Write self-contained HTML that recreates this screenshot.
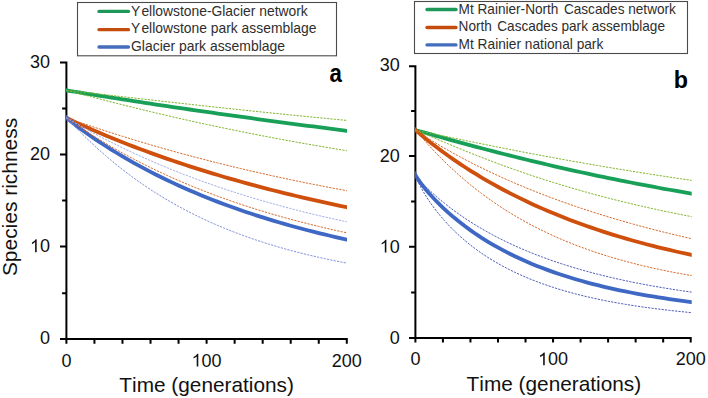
<!DOCTYPE html>
<html><head><meta charset="utf-8"><style>
html,body{margin:0;padding:0;background:#fff;}
body{width:708px;height:398px;overflow:hidden;}
svg{display:block;}
text{font-family:"Liberation Sans",sans-serif;fill:#111;font-kerning:none;}
.tk{font-size:18px;}
.ti{font-size:20.8px;}
.lg{fill:#2e2e2e;}
.pl{font-size:24px;font-weight:bold;fill:#000;}
</style></head><body>
<svg width="708" height="398" viewBox="0 0 708 398">
<rect width="708" height="398" fill="#fff"/>
<defs><clipPath id="cpa"><rect x="66.1" y="0" width="281.00" height="398"/></clipPath><clipPath id="cpb"><rect x="415.1" y="0" width="276.60" height="398"/></clipPath></defs>
<path d="M66.40,61.50 V339.00 M60.00,339.00 H347.80 M60.00,62.50 H66.40 M62.10,108.40 H66.40 M60.00,154.40 H66.40 M62.10,200.40 H66.40 M60.00,246.40 H66.40 M62.10,293.20 H66.40 M60.00,339.00 H66.40 M66.40,339.00 V343.70 M94.44,339.00 V343.70 M122.48,339.00 V343.70 M150.52,339.00 V343.70 M178.56,339.00 V343.70 M206.60,339.00 V343.70 M234.64,339.00 V343.70 M262.68,339.00 V343.70 M290.72,339.00 V343.70 M318.76,339.00 V343.70 M346.80,339.00 V343.70" stroke="#000" stroke-width="2" fill="none"/>
<g clip-path="url(#cpa)">
<path d="M63.40,89.85 L66.40,90.35 L67.80,90.59 L69.20,90.82 L70.61,91.06 L72.01,91.29 L74.81,91.75 L77.62,92.21 L80.42,92.67 L83.22,93.13 L87.43,93.81 L91.64,94.49 L95.84,95.16 L100.05,95.84 L105.66,96.73 L111.26,97.61 L116.87,98.49 L122.48,99.37 L128.09,100.24 L133.70,101.10 L139.30,101.96 L144.91,102.82 L150.52,103.67 L156.13,104.52 L161.74,105.36 L167.34,106.20 L172.95,107.03 L178.56,107.86 L184.17,108.68 L189.78,109.50 L195.38,110.32 L200.99,111.13 L206.60,111.94 L212.21,112.74 L217.82,113.54 L223.42,114.33 L229.03,115.12 L234.64,115.91 L240.25,116.69 L245.86,117.47 L251.46,118.24 L257.07,119.01 L262.68,119.78 L268.29,120.54 L273.90,121.30 L279.50,122.05 L285.11,122.80 L290.72,123.55 L296.33,124.29 L301.94,125.03 L307.54,125.76 L313.15,126.49 L318.76,127.22 L324.37,127.94 L329.98,128.66 L335.58,129.38 L341.19,130.09 L346.80,130.80 L349.80,131.18" stroke="#18a058" stroke-width="3.8" fill="none"/>
<path d="M63.40,116.31 L66.40,117.80 L67.80,118.50 L69.20,119.19 L70.61,119.86 L72.01,120.53 L74.81,121.85 L77.62,123.16 L80.42,124.44 L83.22,125.72 L87.43,127.60 L91.64,129.45 L95.84,131.28 L100.05,133.08 L105.66,135.44 L111.26,137.75 L116.87,140.03 L122.48,142.27 L128.09,144.46 L133.70,146.62 L139.30,148.75 L144.91,150.83 L150.52,152.89 L156.13,154.90 L161.74,156.89 L167.34,158.84 L172.95,160.76 L178.56,162.65 L184.17,164.51 L189.78,166.33 L195.38,168.13 L200.99,169.90 L206.60,171.64 L212.21,173.35 L217.82,175.04 L223.42,176.70 L229.03,178.33 L234.64,179.94 L240.25,181.52 L245.86,183.07 L251.46,184.60 L257.07,186.11 L262.68,187.59 L268.29,189.05 L273.90,190.49 L279.50,191.90 L285.11,193.29 L290.72,194.66 L296.33,196.01 L301.94,197.34 L307.54,198.65 L313.15,199.93 L318.76,201.20 L324.37,202.44 L329.98,203.67 L335.58,204.88 L341.19,206.07 L346.80,207.24 L349.80,207.86" stroke="#cf4f0c" stroke-width="3.8" fill="none"/>
<path d="M63.40,115.31 L66.40,117.80 L67.80,118.99 L69.20,120.13 L70.61,121.25 L72.01,122.35 L74.81,124.52 L77.62,126.64 L80.42,128.72 L83.22,130.76 L87.43,133.76 L91.64,136.70 L95.84,139.56 L100.05,142.37 L105.66,146.01 L111.26,149.55 L116.87,153.00 L122.48,156.36 L128.09,159.62 L133.70,162.80 L139.30,165.90 L144.91,168.92 L150.52,171.86 L156.13,174.72 L161.74,177.51 L167.34,180.23 L172.95,182.89 L178.56,185.47 L184.17,187.99 L189.78,190.45 L195.38,192.85 L200.99,195.19 L206.60,197.47 L212.21,199.70 L217.82,201.87 L223.42,203.99 L229.03,206.05 L234.64,208.07 L240.25,210.03 L245.86,211.95 L251.46,213.82 L257.07,215.65 L262.68,217.43 L268.29,219.17 L273.90,220.87 L279.50,222.53 L285.11,224.15 L290.72,225.73 L296.33,227.27 L301.94,228.77 L307.54,230.24 L313.15,231.67 L318.76,233.07 L324.37,234.43 L329.98,235.77 L335.58,237.07 L341.19,238.34 L346.80,239.58 L349.80,240.24" stroke="#3f68c4" stroke-width="3.8" fill="none"/>
<path d="M63.40,90.05 L66.40,90.35 L67.80,90.49 L69.20,90.63 L70.61,90.78 L72.01,90.94 L74.81,91.25 L77.62,91.56 L80.42,91.87 L83.22,92.19 L87.43,92.67 L91.64,93.15 L95.84,93.64 L100.05,94.12 L105.66,94.77 L111.26,95.41 L116.87,96.06 L122.48,96.71 L128.09,97.35 L133.70,97.99 L139.30,98.64 L144.91,99.28 L150.52,99.91 L156.13,100.55 L161.74,101.18 L167.34,101.81 L172.95,102.44 L178.56,103.07 L184.17,103.69 L189.78,104.31 L195.38,104.93 L200.99,105.54 L206.60,106.15 L212.21,106.76 L217.82,107.37 L223.42,107.97 L229.03,108.57 L234.64,109.16 L240.25,109.76 L245.86,110.34 L251.46,110.93 L257.07,111.51 L262.68,112.09 L268.29,112.67 L273.90,113.25 L279.50,113.82 L285.11,114.38 L290.72,114.95 L296.33,115.51 L301.94,116.06 L307.54,116.62 L313.15,117.17 L318.76,117.72 L324.37,118.26 L329.98,118.80 L335.58,119.34 L341.19,119.88 L346.80,120.41 L349.80,120.69" stroke="#80b42c" stroke-width="1.0" stroke-dasharray="2.2 1.2" fill="none"/>
<path d="M63.40,89.61 L66.40,90.35 L67.80,90.69 L69.20,91.04 L70.61,91.40 L72.01,91.76 L74.81,92.48 L77.62,93.22 L80.42,93.95 L83.22,94.68 L87.43,95.78 L91.64,96.88 L95.84,97.98 L100.05,99.07 L105.66,100.51 L111.26,101.95 L116.87,103.37 L122.48,104.78 L128.09,106.18 L133.70,107.57 L139.30,108.95 L144.91,110.31 L150.52,111.66 L156.13,113.00 L161.74,114.32 L167.34,115.63 L172.95,116.92 L178.56,118.21 L184.17,119.47 L189.78,120.73 L195.38,121.97 L200.99,123.20 L206.60,124.42 L212.21,125.62 L217.82,126.81 L223.42,127.98 L229.03,129.14 L234.64,130.29 L240.25,131.43 L245.86,132.55 L251.46,133.66 L257.07,134.76 L262.68,135.85 L268.29,136.92 L273.90,137.98 L279.50,139.03 L285.11,140.07 L290.72,141.09 L296.33,142.10 L301.94,143.10 L307.54,144.09 L313.15,145.07 L318.76,146.04 L324.37,146.99 L329.98,147.93 L335.58,148.87 L341.19,149.79 L346.80,150.70 L349.80,151.18" stroke="#80b42c" stroke-width="1.0" stroke-dasharray="2.2 1.2" fill="none"/>
<path d="M63.40,116.78 L66.40,117.80 L67.80,118.27 L69.20,118.75 L70.61,119.23 L72.01,119.72 L74.81,120.68 L77.62,121.63 L80.42,122.59 L83.22,123.54 L87.43,124.96 L91.64,126.36 L95.84,127.76 L100.05,129.14 L105.66,130.96 L111.26,132.77 L116.87,134.55 L122.48,136.31 L128.09,138.04 L133.70,139.76 L139.30,141.45 L144.91,143.13 L150.52,144.78 L156.13,146.41 L161.74,148.02 L167.34,149.61 L172.95,151.17 L178.56,152.72 L184.17,154.25 L189.78,155.76 L195.38,157.24 L200.99,158.71 L206.60,160.16 L212.21,161.59 L217.82,163.00 L223.42,164.39 L229.03,165.77 L234.64,167.12 L240.25,168.46 L245.86,169.78 L251.46,171.08 L257.07,172.37 L262.68,173.63 L268.29,174.88 L273.90,176.12 L279.50,177.34 L285.11,178.54 L290.72,179.72 L296.33,180.89 L301.94,182.04 L307.54,183.18 L313.15,184.31 L318.76,185.41 L324.37,186.51 L329.98,187.58 L335.58,188.65 L341.19,189.70 L346.80,190.73 L349.80,191.28" stroke="#d46a2c" stroke-width="1.0" stroke-dasharray="2.2 1.2" fill="none"/>
<path d="M63.40,115.64 L66.40,117.80 L67.80,118.82 L69.20,119.81 L70.61,120.80 L72.01,121.78 L74.81,123.72 L77.62,125.63 L80.42,127.51 L83.22,129.37 L87.43,132.11 L91.64,134.80 L95.84,137.44 L100.05,140.02 L105.66,143.40 L111.26,146.69 L116.87,149.90 L122.48,153.04 L128.09,156.10 L133.70,159.08 L139.30,162.00 L144.91,164.84 L150.52,167.62 L156.13,170.33 L161.74,172.98 L167.34,175.56 L172.95,178.08 L178.56,180.54 L184.17,182.95 L189.78,185.30 L195.38,187.59 L200.99,189.83 L206.60,192.02 L212.21,194.15 L217.82,196.24 L223.42,198.27 L229.03,200.26 L234.64,202.20 L240.25,204.10 L245.86,205.95 L251.46,207.76 L257.07,209.53 L262.68,211.25 L268.29,212.94 L273.90,214.58 L279.50,216.19 L285.11,217.76 L290.72,219.29 L296.33,220.79 L301.94,222.25 L307.54,223.68 L313.15,225.08 L318.76,226.44 L324.37,227.77 L329.98,229.07 L335.58,230.34 L341.19,231.58 L346.80,232.79 L349.80,233.44" stroke="#d46a2c" stroke-width="1.0" stroke-dasharray="2.2 1.2" fill="none"/>
<path d="M63.40,116.06 L66.40,117.80 L67.80,118.61 L69.20,119.43 L70.61,120.24 L72.01,121.05 L74.81,122.66 L77.62,124.26 L80.42,125.84 L83.22,127.40 L87.43,129.72 L91.64,132.01 L95.84,134.27 L100.05,136.49 L105.66,139.40 L111.26,142.25 L116.87,145.04 L122.48,147.78 L128.09,150.47 L133.70,153.10 L139.30,155.67 L144.91,158.20 L150.52,160.67 L156.13,163.10 L161.74,165.47 L167.34,167.80 L172.95,170.08 L178.56,172.32 L184.17,174.51 L189.78,176.65 L195.38,178.75 L200.99,180.81 L206.60,182.83 L212.21,184.80 L217.82,186.74 L223.42,188.63 L229.03,190.49 L234.64,192.31 L240.25,194.09 L245.86,195.84 L251.46,197.55 L257.07,199.23 L262.68,200.87 L268.29,202.48 L273.90,204.05 L279.50,205.59 L285.11,207.11 L290.72,208.59 L296.33,210.04 L301.94,211.46 L307.54,212.85 L313.15,214.21 L318.76,215.55 L324.37,216.86 L329.98,218.14 L335.58,219.39 L341.19,220.62 L346.80,221.83 L349.80,222.47" stroke="#a3ace6" stroke-width="1.0" stroke-dasharray="2.2 1.2" fill="none"/>
<path d="M63.40,114.67 L66.40,117.80 L67.80,119.26 L69.20,120.72 L70.61,122.19 L72.01,123.65 L74.81,126.55 L77.62,129.41 L80.42,132.23 L83.22,135.00 L87.43,139.09 L91.64,143.08 L95.84,146.97 L100.05,150.77 L105.66,155.69 L111.26,160.45 L116.87,165.04 L122.48,169.49 L128.09,173.78 L133.70,177.93 L139.30,181.94 L144.91,185.80 L150.52,189.54 L156.13,193.15 L161.74,196.63 L167.34,200.00 L172.95,203.24 L178.56,206.38 L184.17,209.40 L189.78,212.32 L195.38,215.14 L200.99,217.86 L206.60,220.49 L212.21,223.02 L217.82,225.47 L223.42,227.83 L229.03,230.10 L234.64,232.30 L240.25,234.42 L245.86,236.47 L251.46,238.44 L257.07,240.34 L262.68,242.18 L268.29,243.95 L273.90,245.66 L279.50,247.31 L285.11,248.90 L290.72,250.44 L296.33,251.92 L301.94,253.35 L307.54,254.72 L313.15,256.05 L318.76,257.34 L324.37,258.57 L329.98,259.76 L335.58,260.92 L341.19,262.02 L346.80,263.09 L349.80,263.66" stroke="#8290dc" stroke-width="1.0" stroke-dasharray="2.2 1.2" fill="none"/>
</g>
<path d="M415.40,65.20 V337.90 M409.00,337.90 H691.70 M409.00,66.20 H415.40 M411.10,110.90 H415.40 M409.00,156.00 H415.40 M411.10,201.60 H415.40 M409.00,246.80 H415.40 M411.10,292.40 H415.40 M409.00,337.90 H415.40 M415.40,337.90 V342.60 M442.93,337.90 V342.60 M470.46,337.90 V342.60 M497.99,337.90 V342.60 M525.52,337.90 V342.60 M553.05,337.90 V342.60 M580.58,337.90 V342.60 M608.11,337.90 V342.60 M635.64,337.90 V342.60 M663.17,337.90 V342.60 M690.70,337.90 V342.60" stroke="#000" stroke-width="2" fill="none"/>
<g clip-path="url(#cpb)">
<path d="M412.40,129.43 L415.40,130.20 L416.78,130.54 L418.16,130.90 L419.54,131.27 L420.92,131.65 L423.68,132.40 L426.44,133.16 L429.20,133.93 L431.97,134.70 L436.11,135.85 L440.25,137.00 L444.39,138.15 L448.53,139.30 L454.05,140.82 L459.58,142.33 L465.10,143.84 L470.62,145.33 L476.14,146.80 L481.66,148.27 L487.19,149.72 L492.71,151.16 L498.23,152.59 L503.75,154.00 L509.27,155.39 L514.80,156.78 L520.32,158.14 L525.84,159.50 L531.36,160.84 L536.88,162.16 L542.41,163.47 L547.93,164.77 L553.45,166.05 L558.97,167.32 L564.49,168.57 L570.02,169.81 L575.54,171.03 L581.06,172.24 L586.58,173.44 L592.10,174.62 L597.63,175.79 L603.15,176.94 L608.67,178.08 L614.19,179.21 L619.71,180.32 L625.24,181.42 L630.76,182.51 L636.28,183.58 L641.80,184.64 L647.32,185.69 L652.85,186.72 L658.37,187.75 L663.89,188.76 L669.41,189.75 L674.93,190.74 L680.46,191.71 L685.98,192.67 L691.50,193.62 L694.50,194.13" stroke="#18a058" stroke-width="3.8" fill="none"/>
<path d="M412.40,127.23 L415.40,129.90 L416.78,131.15 L418.16,132.36 L419.54,133.55 L420.92,134.72 L423.68,137.02 L426.44,139.28 L429.20,141.49 L431.97,143.67 L436.11,146.86 L440.25,149.98 L444.39,153.03 L448.53,156.00 L454.05,159.86 L459.58,163.61 L465.10,167.24 L470.62,170.78 L476.14,174.21 L481.66,177.54 L487.19,180.78 L492.71,183.93 L498.23,186.99 L503.75,189.97 L509.27,192.86 L514.80,195.67 L520.32,198.41 L525.84,201.07 L531.36,203.66 L536.88,206.18 L542.41,208.63 L547.93,211.01 L553.45,213.33 L558.97,215.59 L564.49,217.78 L570.02,219.92 L575.54,222.00 L581.06,224.02 L586.58,225.99 L592.10,227.91 L597.63,229.77 L603.15,231.59 L608.67,233.35 L614.19,235.07 L619.71,236.75 L625.24,238.38 L630.76,239.96 L636.28,241.51 L641.80,243.01 L647.32,244.47 L652.85,245.90 L658.37,247.29 L663.89,248.64 L669.41,249.95 L674.93,251.23 L680.46,252.48 L685.98,253.69 L691.50,254.87 L694.50,255.51" stroke="#cf4f0c" stroke-width="3.8" fill="none"/>
<path d="M412.40,169.96 L415.40,174.90 L416.78,177.34 L418.16,179.44 L419.54,181.42 L420.92,183.30 L423.68,186.88 L426.44,190.25 L429.20,193.47 L431.97,196.55 L436.11,200.94 L440.25,205.10 L444.39,209.06 L448.53,212.83 L454.05,217.59 L459.58,222.09 L465.10,226.34 L470.62,230.37 L476.14,234.19 L481.66,237.82 L487.19,241.27 L492.71,244.55 L498.23,247.67 L503.75,250.65 L509.27,253.50 L514.80,256.21 L520.32,258.79 L525.84,261.27 L531.36,263.63 L536.88,265.89 L542.41,268.05 L547.93,270.12 L553.45,272.09 L558.97,273.99 L564.49,275.80 L570.02,277.54 L575.54,279.20 L581.06,280.80 L586.58,282.32 L592.10,283.79 L597.63,285.19 L603.15,286.54 L608.67,287.84 L614.19,289.08 L619.71,290.27 L625.24,291.41 L630.76,292.51 L636.28,293.56 L641.80,294.57 L647.32,295.54 L652.85,296.48 L658.37,297.37 L663.89,298.24 L669.41,299.06 L674.93,299.86 L680.46,300.62 L685.98,301.36 L691.50,302.07 L694.50,302.45" stroke="#3f68c4" stroke-width="3.8" fill="none"/>
<path d="M412.40,129.63 L415.40,130.20 L416.78,130.45 L418.16,130.72 L419.54,131.00 L420.92,131.28 L423.68,131.84 L426.44,132.41 L429.20,132.98 L431.97,133.56 L436.11,134.42 L440.25,135.29 L444.39,136.16 L448.53,137.02 L454.05,138.17 L459.58,139.32 L465.10,140.46 L470.62,141.60 L476.14,142.73 L481.66,143.85 L487.19,144.97 L492.71,146.08 L498.23,147.18 L503.75,148.27 L509.27,149.35 L514.80,150.43 L520.32,151.50 L525.84,152.56 L531.36,153.61 L536.88,154.65 L542.41,155.69 L547.93,156.71 L553.45,157.73 L558.97,158.74 L564.49,159.73 L570.02,160.73 L575.54,161.71 L581.06,162.68 L586.58,163.64 L592.10,164.60 L597.63,165.55 L603.15,166.48 L608.67,167.41 L614.19,168.33 L619.71,169.25 L625.24,170.15 L630.76,171.05 L636.28,171.93 L641.80,172.81 L647.32,173.68 L652.85,174.54 L658.37,175.40 L663.89,176.24 L669.41,177.08 L674.93,177.91 L680.46,178.73 L685.98,179.54 L691.50,180.35 L694.50,180.79" stroke="#80b42c" stroke-width="1.0" stroke-dasharray="2.2 1.2" fill="none"/>
<path d="M412.40,129.06 L415.40,130.20 L416.78,130.70 L418.16,131.25 L419.54,131.81 L420.92,132.38 L423.68,133.53 L426.44,134.69 L429.20,135.86 L431.97,137.03 L436.11,138.80 L440.25,140.55 L444.39,142.30 L448.53,144.04 L454.05,146.34 L459.58,148.62 L465.10,150.87 L470.62,153.09 L476.14,155.28 L481.66,157.44 L487.19,159.56 L492.71,161.65 L498.23,163.72 L503.75,165.74 L509.27,167.74 L514.80,169.70 L520.32,171.63 L525.84,173.52 L531.36,175.38 L536.88,177.21 L542.41,179.01 L547.93,180.78 L553.45,182.51 L558.97,184.21 L564.49,185.88 L570.02,187.52 L575.54,189.13 L581.06,190.71 L586.58,192.26 L592.10,193.78 L597.63,195.27 L603.15,196.74 L608.67,198.17 L614.19,199.58 L619.71,200.96 L625.24,202.31 L630.76,203.64 L636.28,204.94 L641.80,206.22 L647.32,207.47 L652.85,208.70 L658.37,209.90 L663.89,211.08 L669.41,212.23 L674.93,213.36 L680.46,214.47 L685.98,215.56 L691.50,216.62 L694.50,217.20" stroke="#80b42c" stroke-width="1.0" stroke-dasharray="2.2 1.2" fill="none"/>
<path d="M412.40,127.74 L415.40,129.90 L416.78,130.92 L418.16,131.89 L419.54,132.83 L420.92,133.76 L423.68,135.58 L426.44,137.35 L429.20,139.09 L431.97,140.81 L436.11,143.32 L440.25,145.78 L444.39,148.19 L448.53,150.55 L454.05,153.63 L459.58,156.63 L465.10,159.56 L470.62,162.42 L476.14,165.21 L481.66,167.94 L487.19,170.61 L492.71,173.22 L498.23,175.77 L503.75,178.27 L509.27,180.72 L514.80,183.11 L520.32,185.45 L525.84,187.74 L531.36,189.99 L536.88,192.18 L542.41,194.34 L547.93,196.45 L553.45,198.51 L558.97,200.53 L564.49,202.52 L570.02,204.46 L575.54,206.36 L581.06,208.23 L586.58,210.05 L592.10,211.84 L597.63,213.60 L603.15,215.32 L608.67,217.01 L614.19,218.66 L619.71,220.28 L625.24,221.87 L630.76,223.43 L636.28,224.95 L641.80,226.45 L647.32,227.92 L652.85,229.36 L658.37,230.77 L663.89,232.15 L669.41,233.51 L674.93,234.84 L680.46,236.15 L685.98,237.43 L691.50,238.68 L694.50,239.36" stroke="#d46a2c" stroke-width="1.0" stroke-dasharray="2.2 1.2" fill="none"/>
<path d="M412.40,126.31 L415.40,129.90 L416.78,131.56 L418.16,133.20 L419.54,134.82 L420.92,136.43 L423.68,139.60 L426.44,142.71 L429.20,145.75 L431.97,148.74 L436.11,153.11 L440.25,157.35 L444.39,161.47 L448.53,165.47 L454.05,170.62 L459.58,175.57 L465.10,180.33 L470.62,184.91 L476.14,189.31 L481.66,193.55 L487.19,197.62 L492.71,201.53 L498.23,205.29 L503.75,208.91 L509.27,212.39 L514.80,215.74 L520.32,218.96 L525.84,222.05 L531.36,225.02 L536.88,227.89 L542.41,230.64 L547.93,233.28 L553.45,235.82 L558.97,238.27 L564.49,240.62 L570.02,242.88 L575.54,245.06 L581.06,247.15 L586.58,249.16 L592.10,251.09 L597.63,252.95 L603.15,254.74 L608.67,256.46 L614.19,258.12 L619.71,259.71 L625.24,261.23 L630.76,262.70 L636.28,264.12 L641.80,265.48 L647.32,266.79 L652.85,268.04 L658.37,269.25 L663.89,270.41 L669.41,271.53 L674.93,272.61 L680.46,273.64 L685.98,274.64 L691.50,275.59 L694.50,276.11" stroke="#d46a2c" stroke-width="1.0" stroke-dasharray="2.2 1.2" fill="none"/>
<path d="M412.40,171.04 L415.40,174.90 L416.78,176.78 L418.16,178.45 L419.54,180.04 L420.92,181.57 L423.68,184.49 L426.44,187.28 L429.20,189.96 L431.97,192.54 L436.11,196.26 L440.25,199.81 L444.39,203.21 L448.53,206.47 L454.05,210.63 L459.58,214.59 L465.10,218.37 L470.62,221.97 L476.14,225.41 L481.66,228.70 L487.19,231.85 L492.71,234.87 L498.23,237.77 L503.75,240.54 L509.27,243.20 L514.80,245.76 L520.32,248.22 L525.84,250.58 L531.36,252.84 L536.88,255.02 L542.41,257.12 L547.93,259.13 L553.45,261.07 L558.97,262.94 L564.49,264.74 L570.02,266.47 L575.54,268.13 L581.06,269.74 L586.58,271.29 L592.10,272.77 L597.63,274.21 L603.15,275.59 L608.67,276.93 L614.19,278.21 L619.71,279.45 L625.24,280.65 L630.76,281.80 L636.28,282.91 L641.80,283.99 L647.32,285.02 L652.85,286.02 L658.37,286.98 L663.89,287.91 L669.41,288.81 L674.93,289.68 L680.46,290.51 L685.98,291.32 L691.50,292.10 L694.50,292.52" stroke="#4d5cb8" stroke-width="1.0" stroke-dasharray="2.2 1.2" fill="none"/>
<path d="M412.40,167.26 L415.40,174.90 L416.78,178.81 L418.16,181.93 L419.54,184.77 L420.92,187.42 L423.68,192.34 L426.44,196.86 L429.20,201.08 L431.97,205.05 L436.11,210.61 L440.25,215.77 L444.39,220.58 L448.53,225.09 L454.05,230.69 L459.58,235.88 L465.10,240.69 L470.62,245.18 L476.14,249.37 L481.66,253.29 L487.19,256.96 L492.71,260.41 L498.23,263.64 L503.75,266.69 L509.27,269.56 L514.80,272.27 L520.32,274.82 L525.84,277.24 L531.36,279.51 L536.88,281.67 L542.41,283.71 L547.93,285.64 L553.45,287.47 L558.97,289.20 L564.49,290.85 L570.02,292.40 L575.54,293.88 L581.06,295.29 L586.58,296.62 L592.10,297.89 L597.63,299.10 L603.15,300.24 L608.67,301.33 L614.19,302.37 L619.71,303.35 L625.24,304.29 L630.76,305.19 L636.28,306.04 L641.80,306.85 L647.32,307.62 L652.85,308.36 L658.37,309.06 L663.89,309.73 L669.41,310.37 L674.93,310.98 L680.46,311.56 L685.98,312.12 L691.50,312.65 L694.50,312.93" stroke="#4d5cb8" stroke-width="1.0" stroke-dasharray="2.2 1.2" fill="none"/>
</g>
<text x="50.00" y="344.20" text-anchor="end" class="tk">0</text>
<text x="50.00" y="252.20" text-anchor="end" class="tk">0</text>
<path d="M763,0 L583,0 L583,1147 Q518,1085 415,1024.5 Q312,964 223,931 L223,1105 Q374,1176 487,1277 Q600,1378 647,1466 L763,1466 Z" transform="translate(29.98,252.20) scale(0.008789,-0.008789)" fill="#111"/>
<text x="50.00" y="160.20" text-anchor="end" class="tk">20</text>
<text x="50.00" y="68.00" text-anchor="end" class="tk">30</text>
<text x="66.40" y="366.6" text-anchor="middle" class="tk">0</text>
<text x="201.60" y="366.6" class="tk">00</text>
<path d="M763,0 L583,0 L583,1147 Q518,1085 415,1024.5 Q312,964 223,931 L223,1105 Q374,1176 487,1277 Q600,1378 647,1466 L763,1466 Z" transform="translate(191.59,366.60) scale(0.008789,-0.008789)" fill="#111"/>
<text x="346.80" y="366.6" text-anchor="middle" class="tk">200</text>
<text x="206.60" y="391.8" text-anchor="middle" class="ti">Time (generations)</text>
<text x="399.70" y="343.70" text-anchor="end" class="tk">0</text>
<text x="399.70" y="252.60" text-anchor="end" class="tk">0</text>
<path d="M763,0 L583,0 L583,1147 Q518,1085 415,1024.5 Q312,964 223,931 L223,1105 Q374,1176 487,1277 Q600,1378 647,1466 L763,1466 Z" transform="translate(379.68,252.60) scale(0.008789,-0.008789)" fill="#111"/>
<text x="399.70" y="161.80" text-anchor="end" class="tk">20</text>
<text x="399.70" y="71.40" text-anchor="end" class="tk">30</text>
<text x="415.40" y="365.3" text-anchor="middle" class="tk">0</text>
<text x="548.05" y="365.3" class="tk">00</text>
<path d="M763,0 L583,0 L583,1147 Q518,1085 415,1024.5 Q312,964 223,931 L223,1105 Q374,1176 487,1277 Q600,1378 647,1466 L763,1466 Z" transform="translate(538.04,365.30) scale(0.008789,-0.008789)" fill="#111"/>
<text x="690.70" y="365.3" text-anchor="middle" class="tk">200</text>
<text x="553.85" y="391.1" text-anchor="middle" class="ti">Time (generations)</text>
<text transform="translate(16.6,197.0) rotate(-90)" text-anchor="middle" class="ti" textLength="158.2" lengthAdjust="spacingAndGlyphs">Species richness</text>
<text transform="translate(329.6,81.7) scale(0.89,1)" class="pl" style="font-size:25px">a</text>
<text x="673.8" y="87.6" class="pl" style="font-size:23.3px">b</text>
<rect x="77.5" y="2.5" width="259" height="53.3" fill="#fff" stroke="#4a4a4a" stroke-width="1.1"/>
<path d="M99,11.4 H128.5" stroke="#1e975a" stroke-width="3.3" stroke-linecap="round"/>
<text x="131" y="15.7" class="lg" style="font-size:14.5px" textLength="176.8" lengthAdjust="spacingAndGlyphs">Y<tspan dx="1.2">ellowstone-Glacier network</tspan></text>
<path d="M99,29.7 H128.5" stroke="#c44d0e" stroke-width="3.3" stroke-linecap="round"/>
<text x="131" y="33.0" class="lg" style="font-size:14.5px" textLength="185.4" lengthAdjust="spacingAndGlyphs">Y<tspan dx="1.2">ellowstone park assemblage</tspan></text>
<path d="M99,47.0 H128.5" stroke="#446ebd" stroke-width="3.3" stroke-linecap="round"/>
<text x="131" y="50.6" class="lg" style="font-size:14.5px" textLength="154.0" lengthAdjust="spacingAndGlyphs">Glacier park assemblage</text>
<rect x="414.5" y="1.5" width="273" height="52.0" fill="#fff" stroke="#4a4a4a" stroke-width="1.1"/>
<path d="M427,9.5 H456" stroke="#1e975a" stroke-width="3.3" stroke-linecap="round"/>
<text x="458.6" y="13.9" class="lg" style="font-size:14.5px" textLength="217.3" lengthAdjust="spacingAndGlyphs">Mt Rainier-North<tspan dx="1.8"> Cascades network</tspan></text>
<path d="M427,27.5 H456" stroke="#c44d0e" stroke-width="3.3" stroke-linecap="round"/>
<text x="458.6" y="31.1" class="lg" style="font-size:14.5px" textLength="206.4" lengthAdjust="spacingAndGlyphs">North<tspan dx="1.8"> Cascades park assemblage</tspan></text>
<path d="M427,44.9 H456" stroke="#446ebd" stroke-width="3.3" stroke-linecap="round"/>
<text x="458.6" y="48.5" class="lg" style="font-size:14.5px" textLength="144.7" lengthAdjust="spacingAndGlyphs">Mt Rainier national park</text>
</svg>
</body></html>
